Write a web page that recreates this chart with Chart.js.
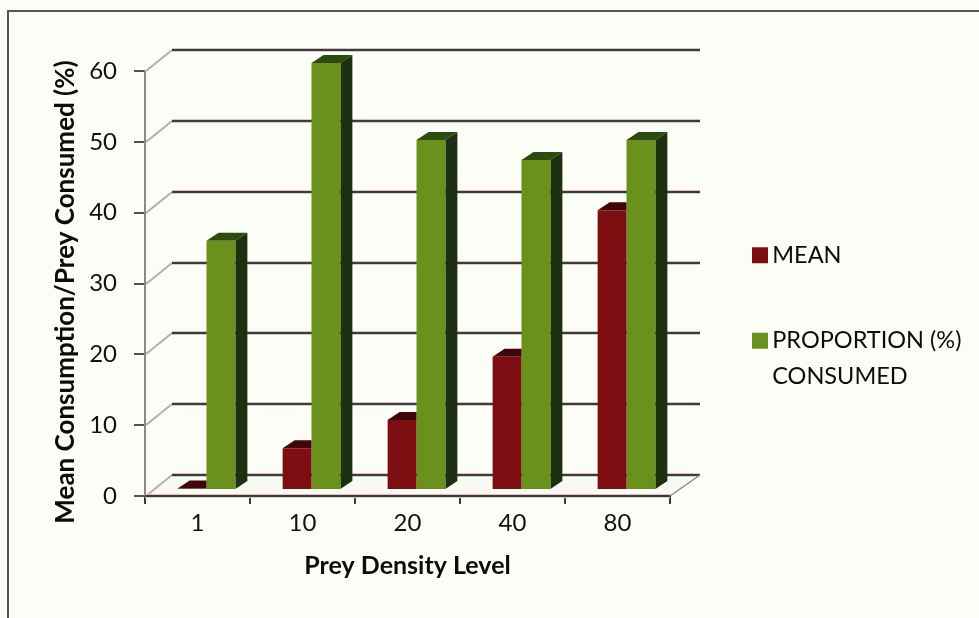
<!DOCTYPE html>
<html lang="en">
<head>
    <meta charset="UTF-8">
    <title>Prey Density Level</title>
    <script src="https://cdn.jsdelivr.net/npm/chart.js"></script>
    <style>
        html, body { margin: 0; padding: 0; background: #fdfdf8; }
        #frame {
            position: absolute; left: 7px; top: 10px; right: -4px; bottom: -4px;
            border: 2px solid #55565a;
        }
        #wrap { position: absolute; left: 0; top: 0; width: 979px; height: 618px; }
    </style>
</head>
<body>
    <div id="frame"></div>
    <div id="wrap"><canvas id="chart" width="979" height="618"></canvas></div>
    <script>
        // values
        const densityLevels = ['1', '10', '20', '40', '80'];
        const meanValues = [0.2, 5.9, 9.9, 18.8, 39.5];
        const proportionValues = [35.2, 60.3, 49.4, 46.6, 49.4];
        const yTicks = [0, 10, 20, 30, 40, 50, 60];

        const labelFont = 'Lato, "Open Sans", sans-serif';

        // the fake 3D look: how far the back wall and the bars sit behind the axes
        const wallDx = 27, wallDy = 21;
        const barShiftX = 9, barShiftY = 6;
        const sideDx = 12, sideDy = 8;

        function shade(ctx, pts, color) {
            ctx.beginPath();
            pts.forEach((p, i) => i ? ctx.lineTo(p[0], p[1]) : ctx.moveTo(p[0], p[1]));
            ctx.closePath();
            ctx.fillStyle = color;
            ctx.fill();
        }

        function scanLine(ctx, x1, y1, x2, y2, color) {
            // scanned lines have a pink edge on top and a teal one below
            [[-1.5, '#e6bcc0'], [1.5, '#bcdad4'], [0, color]].forEach(([off, c]) => {
                ctx.beginPath();
                ctx.moveTo(x1, y1 + off);
                ctx.lineTo(x2, y2 + off);
                ctx.strokeStyle = c;
                ctx.lineWidth = off ? 1 : 2;
                ctx.stroke();
            });
        }

        const walls3d = {
            id: 'walls3d',
            afterLayout(chart) {
                // axis title sits a little lower than the middle of the axis
                chart.scales.y.bottom += 17;
                const legend = chart.legend;
                legend.left = 697.5;
                legend.right = 965;
                legend.top = 181.5;
                legend.bottom = 610;
            },
            beforeDatasetsDraw(chart) {
                const ctx = chart.ctx;
                const x = chart.scales.x, y = chart.scales.y;
                const left = x.left, right = x.right, base = Math.round(y.getPixelForValue(0));

                // floor
                shade(ctx, [[left, base], [left + wallDx, base - wallDy], [right + 30, base - wallDy], [right, base]], '#fafaf5');

                yTicks.forEach(v => {
                    const py = Math.round(y.getPixelForValue(v));
                    ctx.beginPath();
                    ctx.moveTo(left + 1, py);
                    ctx.lineTo(left + wallDx, py - wallDy);
                    ctx.strokeStyle = '#b5ada8';
                    ctx.lineWidth = 2;
                    ctx.stroke();
                    scanLine(ctx, left + wallDx, py - wallDy, right + 30, py - wallDy, '#3f3a3a');
                });
                // right edge of the floor
                ctx.beginPath();
                ctx.moveTo(right, base);
                ctx.lineTo(right + 30, base - wallDy);
                ctx.strokeStyle = '#8a8a86';
                ctx.lineWidth = 1.5;
                ctx.stroke();

                // value axis and category axis lines
                ctx.beginPath();
                ctx.moveTo(left, y.getPixelForValue(60));
                ctx.lineTo(left, base);
                ctx.strokeStyle = '#8b8a80';
                ctx.lineWidth = 2;
                ctx.stroke();
                scanLine(ctx, left, base, right, base, '#3f3a3a');

                ctx.save();
                ctx.translate(barShiftX, -barShiftY);
            },
            beforeDatasetDraw(chart, args) {
                const ctx = chart.ctx;
                const meta = args.meta;
                const ds = chart.data.datasets[args.index];
                meta.data.forEach(bar => {
                    const l = bar.x - bar.width / 2, r = bar.x + bar.width / 2;
                    if (args.index === 0) {
                        // the green bar hides the right part of the red top
                        shade(ctx, [[l, bar.y], [l + sideDx, bar.y - sideDy], [r, bar.y - sideDy], [r, bar.y]], ds.topColor);
                    } else {
                        shade(ctx, [[r, bar.y], [r + sideDx, bar.y - sideDy], [r + sideDx, bar.base - sideDy], [r, bar.base]], ds.sideColor);
                        shade(ctx, [[l, bar.y], [l + sideDx, bar.y - sideDy], [r + sideDx, bar.y - sideDy], [r, bar.y]], ds.topColor);
                    }
                });
            },
            afterDatasetsDraw(chart) {
                chart.ctx.restore();
            }
        };

        new Chart(document.getElementById('chart'), {
            type: 'bar',
            data: {
                labels: densityLevels,
                datasets: [
                    {
                        label: 'MEAN',
                        data: meanValues,
                        backgroundColor: '#7c0e12',
                        topColor: '#3f0508',
                        clip: false
                    },
                    {
                        label: ['PROPORTION (%)', 'CONSUMED'],
                        data: proportionValues,
                        backgroundColor: '#6a911c',
                        sideColor: '#1d300f',
                        topColor: '#2f4a10',
                        clip: false
                    }
                ]
            },
            options: {
                responsive: false,
                animation: false,
                categoryPercentage: 0.55,
                barPercentage: 1,
                layout: { padding: { left: 0, top: 71, right: 309, bottom: 40 } },
                plugins: {
                    tooltip: { enabled: false },
                    legend: {
                        position: 'chartArea',
                        align: 'start',
                        labels: {
                            color: '#0c0c0c',
                            font: { family: labelFont, size: 23.5, lineHeight: 1.5 },
                            usePointStyle: true,
                            pointStyle: 'rect',
                            boxWidth: 1,
                            boxHeight: 16,
                            padding: 62
                        }
                    }
                },
                scales: {
                    x: {
                        afterFit: s => { s.height = 82; },
                        grid: { drawOnChartArea: false, color: '#3f3a3a', lineWidth: 2, tickLength: 8 },
                        border: { display: false },
                        ticks: { color: '#111', padding: 5, font: { family: labelFont, size: 24 } },
                        title: {
                            display: true,
                            text: 'Prey Density Level',
                            color: '#0c0c0c',
                            padding: 0,
                            font: { family: labelFont, size: 25, weight: 'bold', lineHeight: 1 }
                        }
                    },
                    y: {
                        min: 0,
                        max: 60,
                        afterFit: s => { s.width = 145; },
                        afterBuildTicks: s => { s.ticks = yTicks.map(v => ({ value: v })); },
                        grid: { drawOnChartArea: false, color: '#55504e', lineWidth: 2, tickLength: 11 },
                        border: { display: false },
                        ticks: { color: '#111', padding: 17, font: { family: labelFont, size: 24 } },
                        title: {
                            display: true,
                            text: 'Mean Consumption/Prey Consumed (%)',
                            color: '#0c0c0c',
                            padding: { top: 53, bottom: 0 },
                            font: { family: labelFont, size: 26, weight: 'bold', lineHeight: 1 }
                        }
                    }
                }
            },
            plugins: [walls3d]
        });
    </script>
</body>
</html>
